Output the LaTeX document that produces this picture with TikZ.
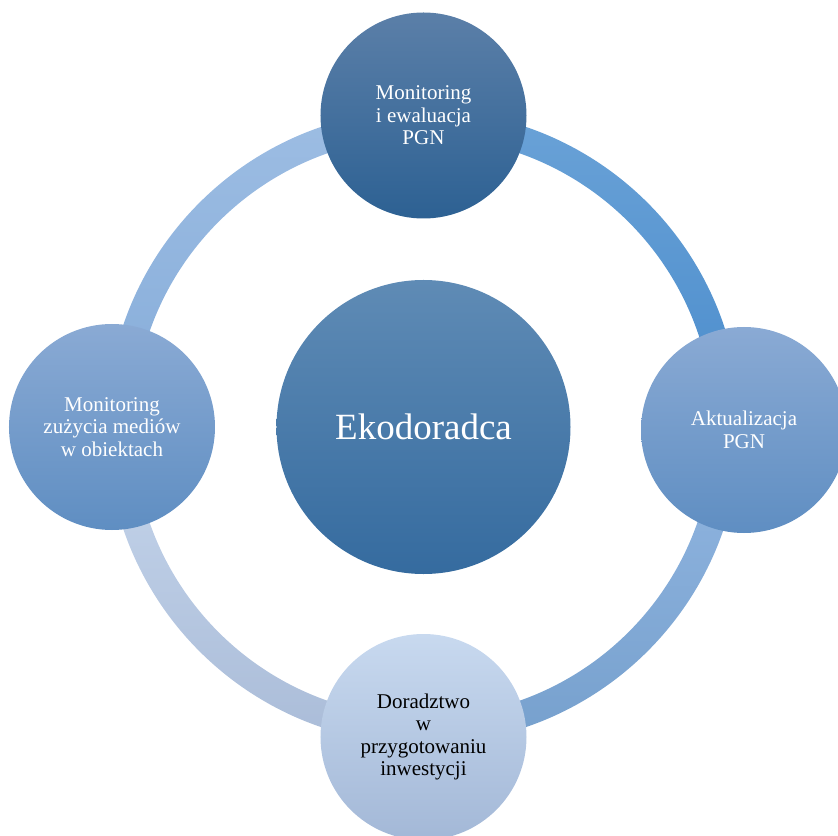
\documentclass[tikz,border=0pt]{standalone}
\usepackage{fontspec}
\setmainfont{Liberation Serif}
\usepackage{tikz}
\usetikzlibrary{positioning}

\definecolor{hubtop}{HTML}{5F8BB5}
\definecolor{hubbot}{HTML}{356B9F}
\definecolor{darktop}{HTML}{5B7FA8}
\definecolor{darkbot}{HTML}{2D6193}
\definecolor{midtop}{HTML}{8AAAD4}
\definecolor{midbot}{HTML}{5F8EC2}
\definecolor{palet}{HTML}{C8D9EF}
\definecolor{paleb}{HTML}{A3B8D7}
\definecolor{arcAt}{HTML}{6AA2D7}
\definecolor{arcAb}{HTML}{4A8CCC}
\definecolor{arcBt}{HTML}{93B7E2}
\definecolor{arcBb}{HTML}{76A0CD}
\definecolor{arcCt}{HTML}{C6D6EC}
\definecolor{arcCb}{HTML}{AABCD8}
\definecolor{arcDt}{HTML}{9DBDE3}
\definecolor{arcDb}{HTML}{85ACD9}

\begin{document}
\begin{tikzpicture}[ x=1bp, y=1bp, node distance=311.5bp, on grid,
  bubble/.style={circle, minimum size=206bp, inner sep=0pt, align=center,
    text=white, font=\fontsize{21bp}{22.5bp}\selectfont},
  hub/.style={circle, minimum size=294bp, inner sep=0pt, align=center,
    text=white, top color=hubtop, bottom color=hubbot,
    font=\fontsize{37bp}{44bp}\selectfont} ]
\clip (-423.5,-409) rectangle (414.5,427);
% ring between the bubbles
\foreach \a/\b/\ct/\cb in {90/0/arcAt/arcAb, 0/-90/arcBt/arcBb,
    -90/-180/arcCt/arcCb, 180/90/arcDt/arcDb}
  \shade[top color=\ct, bottom color=\cb]
    (\a:317bp) arc[start angle=\a, end angle=\b, radius=317bp]
    -- (\b:290bp) arc[start angle=\b, end angle=\a, radius=290bp] -- cycle;
\node [hub] (eko) at (0,0) {Ekodoradca};
\node [bubble, top color=darktop, bottom color=darkbot] (mon) [above = of eko]
  {Monitoring\\i ewaluacja\\PGN};
\node [bubble, top color=midtop, bottom color=midbot] (akt) [right = 320.5bp of eko, yshift=-3bp]
  {Aktualizacja\\PGN};
\node [bubble, top color=palet, bottom color=paleb, text=black] (dor) [below = 310bp of eko]
  {Doradztwo\\w\\przygotowaniu\\inwestycji};
\node [bubble, top color=midtop, bottom color=midbot] (med) [left = of eko]
  {Monitoring\\zużycia mediów\\w obiektach};
\end{tikzpicture}
\end{document}
